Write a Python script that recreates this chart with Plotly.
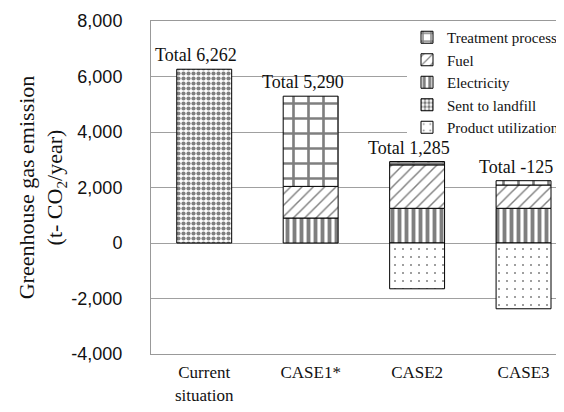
import plotly.graph_objects as go

categories = ["Current<br>situation", "CASE1*", "CASE2", "CASE3"]
treatment = [None, 3250, 120, 155]
fuel = [None, 1140, 1565, 840]
electricity = [None, 900, 1250, 1250]
landfill = [6262, None, None, None]
product = [None, None, -1650, -2370]

y_ticks = [-4000, -2000, 0, 2000, 4000, 6000, 8000]

SERIF = "Liberation Serif, Times New Roman, serif"
SANS = "Liberation Sans, Arial, sans-serif"

series = [
    ("Electricity", electricity, dict(shape="|", size=7, solidity=0.55), 3),
    ("Fuel", fuel, dict(shape="/", size=8, solidity=0.18), 2),
    ("Treatment process", treatment, dict(shape="+", size=15, solidity=0.32), 1),
    ("Sent to landfill", landfill, dict(shape=".", size=5, solidity=0.55), 4),
    ("Product utilization", product, dict(shape=".", size=8, solidity=0.05), 5),
]

fig = go.Figure()
for name, vals, pat, rank in series:
    fig.add_trace(go.Bar(
        x=categories, y=vals, name=name, width=0.516, legendrank=rank,
        marker=dict(color="white",
                    line=dict(color="black", width=1),
                    pattern=dict(fgcolor="black", bgcolor="white", fillmode="overlay", **pat)),
    ))

for i, cat in enumerate(categories):
    vals = [s[1][i] for s in series if s[1][i] is not None]
    total = sum(vals)
    top = sum(v for v in vals if v > 0)
    fig.add_annotation(x=cat, y=top, text=f"Total {total:,}", showarrow=False,
                       xanchor="center", yanchor="bottom", xshift=-8, yshift=2,
                       font=dict(family=SERIF, size=18, color="#111"))

fig.update_layout(
    width=556, height=404,
    margin=dict(l=143, r=0, t=13, b=58),
    paper_bgcolor="white", plot_bgcolor="white",
    barmode="relative",
    showlegend=True,
    legend=dict(x=1, xanchor="right", y=1, yanchor="top",
                bgcolor="white", font=dict(family=SERIF, size=15, color="#111"),
                traceorder="normal", itemwidth=30, tracegroupgap=0),
)
fig.update_xaxes(
    range=[-0.5, 3.38], showline=True, linecolor="#999", linewidth=1, mirror=True,
    ticks="", tickfont=dict(family=SERIF, size=17, color="#111"), ticklabelstandoff=3,
)
fig.update_yaxes(
    range=[-4000, 8000], tickvals=y_ticks, ticktext=[f"{v:,}" for v in y_ticks],
    showgrid=True, gridcolor="#A0A0A0", gridwidth=1,
    zeroline=True, zerolinecolor="#A0A0A0", zerolinewidth=1,
    showline=True, linecolor="#999", linewidth=1,
    ticks="", ticklabelstandoff=24,
    tickfont=dict(family=SANS, size=18, color="#111"),
    title=dict(text="Greenhouse gas emission<br>(t- CO<sub>2</sub>/year)",
               font=dict(family=SERIF, size=22, color="#111"), standoff=2),
)

fig.write_html("out.html")
